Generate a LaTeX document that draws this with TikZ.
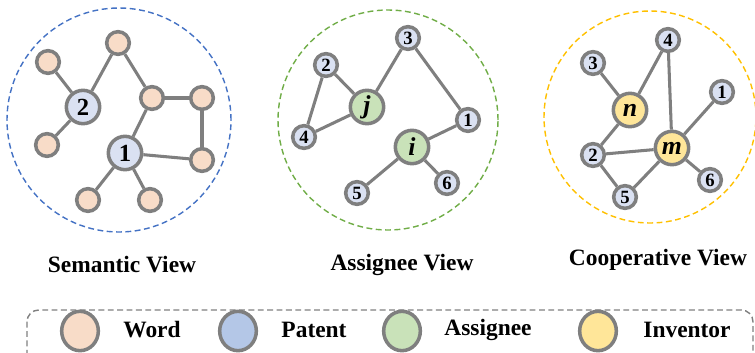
\documentclass[tikz,border=0pt]{standalone}
\usepackage{fontspec}
\setmainfont{Liberation Serif}
\usetikzlibrary{shapes.geometric}
\definecolor{edgegray}{HTML}{7F7F7F}
\definecolor{wordc}{HTML}{F8DCC8}
\definecolor{patc}{HTML}{DAE1F2}
\definecolor{patlc}{HTML}{B4C7E7}
\definecolor{assc}{HTML}{C9E2B9}
\definecolor{invc}{HTML}{FFE699}
\definecolor{semblue}{HTML}{4472C4}
\definecolor{assgreen}{HTML}{70AD47}
\definecolor{coopyellow}{HTML}{FFC000}

\begin{document}
\begin{tikzpicture}[x=0.03cm,y=-0.03cm,
    vtx/.style={circle,draw=edgegray,line width=3pt,inner sep=0pt,minimum size=0.68cm,
      font=\bfseries\fontsize{16}{16}\selectfont},
    bigvtx/.style={vtx,minimum size=1.0cm,font=\bfseries\fontsize{21}{21}\selectfont},
    word/.style={vtx,fill=wordc},
    pat/.style={vtx,fill=patc},
    bigpat/.style={bigvtx,fill=patc},
    ass/.style={bigvtx,fill=assc,font=\bfseries\itshape\fontsize{22}{22}\selectfont},
    inv/.style={bigvtx,fill=invc,font=\bfseries\itshape\fontsize{22}{22}\selectfont},
    edge/.style={draw=edgegray,line width=2.6pt},
    view/.style={line width=1.2pt,dash pattern=on 5pt off 3pt},
    lbl/.style={font=\bfseries\fontsize{20}{24}\selectfont},
    legvtx/.style={ellipse,draw=edgegray,line width=3pt,minimum width=1.1cm,minimum height=1.18cm}]
  \useasboundingbox (0,0) rectangle (755,352);
  % view circles
  \draw[view,semblue] (119,120) circle[radius=3.36cm];
  \draw[view,assgreen] (388,120) circle[radius=3.3cm];
  \draw[view,coopyellow] (650,117) circle[radius=3.18cm];

  % semantic view
  \node[word] (sw1) at (48,62) {};
  \node[word] (sw2) at (118,43) {};
  \node[word] (sw3) at (152,98) {};
  \node[word] (sw4) at (202,98) {};
  \node[word] (sw5) at (47,145) {};
  \node[word] (sw6) at (202,160) {};
  \node[word] (sw7) at (88,200) {};
  \node[word] (sw8) at (150,200) {};
  \node[bigpat] (s2) at (83,107) {2};
  \node[bigpat] (s1) at (125,153) {1};
  \draw[edge] (s2) -- (sw1);
  \draw[edge] (s2) -- (sw2);
  \draw[edge] (s2) -- (sw5);
  \draw[edge] (sw2) -- (sw3);
  \draw[edge] (sw3) -- (sw4);
  \draw[edge] (sw4) -- (sw6);
  \draw[edge] (s1) -- (sw3);
  \draw[edge] (s1) -- (sw6);
  \draw[edge] (s1) -- (sw7);
  \draw[edge] (s1) -- (sw8);

  % assignee view
  \node[pat] (a3) at (408,38) {3};
  \node[pat] (a2) at (326,65) {2};
  \node[pat] (a4) at (304,137) {4};
  \node[pat] (a1) at (468,120) {1};
  \node[pat] (a6) at (447,183) {6};
  \node[pat] (a5) at (357,193) {5};
  \node[ass] (aj) at (367,107) {j};
  \node[ass] (ai) at (412,147) {i};
  \draw[edge] (a2) -- (aj);
  \draw[edge] (a2) -- (a4);
  \draw[edge] (a4) -- (aj);
  \draw[edge] (aj) -- (a3);
  \draw[edge] (a3) -- (a1);
  \draw[edge] (a1) -- (ai);
  \draw[edge] (ai) -- (a5);
  \draw[edge] (ai) -- (a6);

  % cooperative view
  \node[pat] (c4) at (668,40) {4};
  \node[pat] (c3) at (593,63) {3};
  \node[pat] (c1) at (722,92) {1};
  \node[pat] (c2) at (593,155) {2};
  \node[pat] (c6) at (710,180) {6};
  \node[pat] (c5) at (625,197) {5};
  \node[inv] (cn) at (630,110) {n};
  \node[inv] (cm) at (672,148) {m};
  \draw[edge] (c3) -- (cn);
  \draw[edge] (cn) -- (c4);
  \draw[edge] (c4) -- (cm);
  \draw[edge] (c1) -- (cm);
  \draw[edge] (cn) -- (c2);
  \draw[edge] (c2) -- (cm);
  \draw[edge] (c2) -- (c5);
  \draw[edge] (c5) -- (cm);
  \draw[edge] (cm) -- (c6);

  % view names
  \node[lbl] (semlbl) at (122,265) {Semantic View};
  \node[lbl] (asslbl) at (402,265) {Assignee View};
  \node[lbl] (cooplbl) at (658,260) {Cooperative View};

  % legend
  \draw[edgegray,line width=1.2pt,dash pattern=on 5pt off 3pt,rounded corners=10pt]
    (27,310) rectangle (753,372);
  \node[legvtx,fill=wordc] (lw) at (80,331) {};
  \node[lbl] (lwt) at (152,330) {Word};
  \node[legvtx,fill=patlc] (lp) at (238,331) {};
  \node[lbl] (lpt) at (314,330) {Patent};
  \node[legvtx,fill=assc] (la) at (402,331) {};
  \node[lbl] (lat) at (488,330) {Assignee};
  \node[legvtx,fill=invc] (li) at (598,331) {};
  \node[lbl] (lit) at (687,330) {Inventor};
\end{tikzpicture}
\end{document}
